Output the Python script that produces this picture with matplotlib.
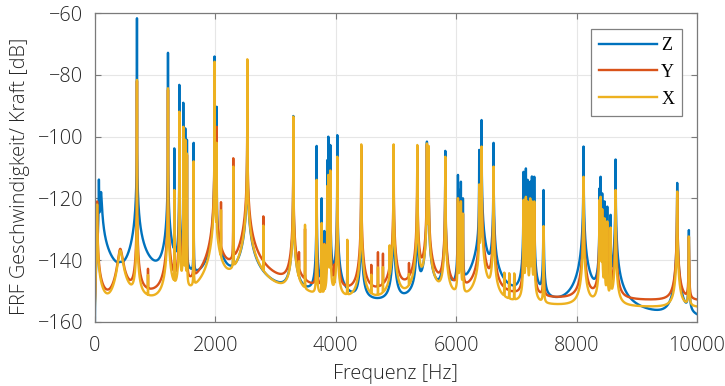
import numpy as np
import matplotlib
matplotlib.use("Agg")
import matplotlib.pyplot as plt

# ---------------- data ----------------
# broad, low-frequency modes: frequency [Hz], damping ratio, peak level per direction [dB]
broad_freq = [40, 70, 105, 425]
broad_zeta = [0.06, 0.03, 0.10, 0.08]
broad_z = [-200, -114.0, -118.0, -150.0]
broad_y = [-121.0, -200, -200, -136.5]
broad_x = [-122.0, -200, -200, -137.0]

# lightly damped modes: resonance frequency [Hz] and peak level per direction [dB]
mode_freq = [702, 885, 1217, 1322, 1405, 1471, 1504, 1532, 1643, 1990, 2025,
             2097, 2301, 2534, 2800, 3298, 3392, 3492, 3685, 3768, 3812, 3862,
             3879, 3912, 3978, 4028, 4194, 4426, 4592, 4703, 4786, 4897, 4963,
             5218, 5356, 5516, 5544, 5821, 6031, 6060, 6080, 6114, 6384, 6423,
             6622, 6800, 6882, 6965, 7120, 7159, 7187, 7231, 7259, 7298, 7452,
             8116, 8382, 8399, 8426, 8465, 8510, 8565, 8648, 9671, 9865]
mode_z = [-61.6, -160, -72.8, -103.8, -83.2, -89.0, -97.3, -101.0, -102.0, -74.0, -90.3,
          -200, -115.0, -75.5, -200, -93.3, -200, -200, -103.0, -120.0, -130.8, -107.6,
          -100.0, -102.7, -200, -99.5, -140.0, -106.0, -200, -200, -200, -200, -106.0,
          -200, -107.0, -101.6, -104.0, -104.6, -112.4, -117.3, -114.6, -120.0, -104.3, -94.6,
          -102.0, -200, -200, -200, -111.4, -110.3, -114.0, -114.6, -112.9, -113.0, -117.3,
          -103.2, -116.8, -113.0, -118.4, -121.0, -122.7, -125.4, -107.4, -115.0, -130.3]
mode_y = [-82.0, -144.0, -84.8, -117.5, -92.3, -97.2, -101.5, -106.0, -108.5, -76.0, -96.8,
          -121.4, -107.0, -75.3, -126.0, -94.0, -139.0, -130.0, -114.5, -128.5, -135.0, -116.0,
          -112.8, -111.0, -144.5, -107.0, -134.0, -103.0, -142.7, -137.8, -138.4, -137.0, -103.0,
          -143.0, -103.2, -102.5, -104.0, -107.0, -120.0, -122.0, -121.0, -125.0, -116.0, -103.5,
          -110.0, -146.0, -146.0, -146.0, -121.0, -120.0, -122.7, -121.0, -122.0, -122.0, -129.5,
          -113.5, -121.0, -120.0, -124.0, -127.0, -128.0, -130.0, -117.5, -118.0, -132.5]
mode_x = [-81.6, -146.0, -84.3, -117.3, -91.9, -96.8, -101.0, -105.5, -108.0, -75.7, -102.0,
          -124.0, -109.7, -74.9, -129.0, -93.5, -142.0, -128.6, -114.0, -128.0, -135.0, -116.0,
          -112.4, -111.0, -150.0, -106.5, -133.5, -102.5, -146.0, -143.0, -143.0, -135.7, -102.5,
          -147.0, -102.7, -102.2, -103.0, -106.5, -120.0, -122.0, -121.0, -125.0, -115.5, -103.2,
          -109.7, -145.0, -145.0, -145.0, -120.5, -119.5, -121.0, -120.0, -121.0, -121.0, -129.0,
          -113.0, -120.5, -119.5, -123.5, -126.5, -127.5, -129.5, -117.3, -117.8, -132.4]

# damping law of the lightly damped modes (zeta = z0 * (f/1000)^p), explicit
# damping of a few modes with narrow skirts, and noise floor [dB]
damp_z0 = {"Z": 4.0e-5, "Y": 6.0e-5, "X": 4.0e-5}
damp_exp = 0.5
narrow_freq = [1990, 2534, 3298]
narrow_scale = [0.6, 0.55, 0.8]
noise_floor = {"Z": -170.0, "Y": -154.0, "X": -156.0}

series_names = ["Z", "Y", "X"]
series_colors = ["#0072BD", "#D95319", "#EDB120"]
x_ticks = [0, 2000, 4000, 6000, 8000, 10000]
y_ticks = [-160, -140, -120, -100, -80, -60]

# ---------------- FRF synthesis (modal superposition, power sum) ----------------
fm = np.array(mode_freq, float)
fb = np.array(broad_freq, float)
f = np.union1d(np.linspace(0, 10000, 20001), np.concatenate([fm, fb]))
f = f[f > 0]

scale = np.ones_like(fm)
for fn, sc in zip(narrow_freq, narrow_scale):
    scale[fm == fn] = sc


def mobility_power(fk, zk, peak_db):
    a = 10 ** (np.asarray(peak_db)[:, None] / 20.0)
    fk = fk[:, None]
    zk = np.asarray(zk, float)[:, None]
    num = 2 * zk * fk * f[None, :]
    den = np.sqrt((fk ** 2 - f[None, :] ** 2) ** 2 + num ** 2)
    return ((a * num / den) ** 2).sum(axis=0)


levels = {
    "Z": (broad_z, mode_z),
    "Y": (broad_y, mode_y),
    "X": (broad_x, mode_x),
}

FONT = "Open Sans"
FS = 14.3

fig = plt.figure(figsize=(7.25, 3.86), dpi=100)
ax = fig.add_axes([0.1306, 0.1666, 0.9614 - 0.1306, 0.9655 - 0.1666])

for name, col in zip(series_names, series_colors):
    b_db, m_db = levels[name]
    zeta_m = damp_z0[name] * (fm / 1000.0) ** damp_exp * scale
    p = (mobility_power(fb, broad_zeta, b_db) + mobility_power(fm, zeta_m, m_db)
         + 10 ** (noise_floor[name] / 10.0))
    ax.plot(f, 10 * np.log10(p), color=col, lw=1.7, label=name)

ax.set_xlim(0, 10000)
ax.set_ylim(-160, -60)
ax.set_xticks(x_ticks)
ax.set_yticks(y_ticks)
ax.grid(True, color="#e6e6e6", lw=0.8)
ax.set_axisbelow(True)
for s in ax.spines.values():
    s.set_color("#7a7a7a")
    s.set_linewidth(0.9)
ax.tick_params(direction="in", top=True, right=True, length=4, color="#7a7a7a",
               labelsize=FS)
ax.tick_params(axis="x", pad=10)
ax.tick_params(axis="y", pad=8)
for lab in ax.get_xticklabels() + ax.get_yticklabels():
    lab.set_family(FONT)
    lab.set_weight("light")
    lab.set_color("#262626")

ax.set_xlabel("Frequenz [Hz]", family=FONT, weight="light", fontsize=FS,
              color="#262626", labelpad=6)
ax.set_ylabel("FRF Geschwindigkeit/ Kraft [dB]", family=FONT, weight="light",
              fontsize=FS, color="#262626")
ax.yaxis.set_label_coords(-0.1075, 0.47)

leg = ax.legend(loc="upper right", bbox_to_anchor=(0.9755, 0.95), fancybox=False,
                edgecolor="#808080", framealpha=1,
                prop={"family": "Liberation Serif", "size": 13},
                handlelength=3.2, labelspacing=0.55, borderpad=0.45, handletextpad=0.25,
                borderaxespad=0)
leg.get_frame().set_linewidth(0.9)

fig.savefig("out.png", dpi=100)
